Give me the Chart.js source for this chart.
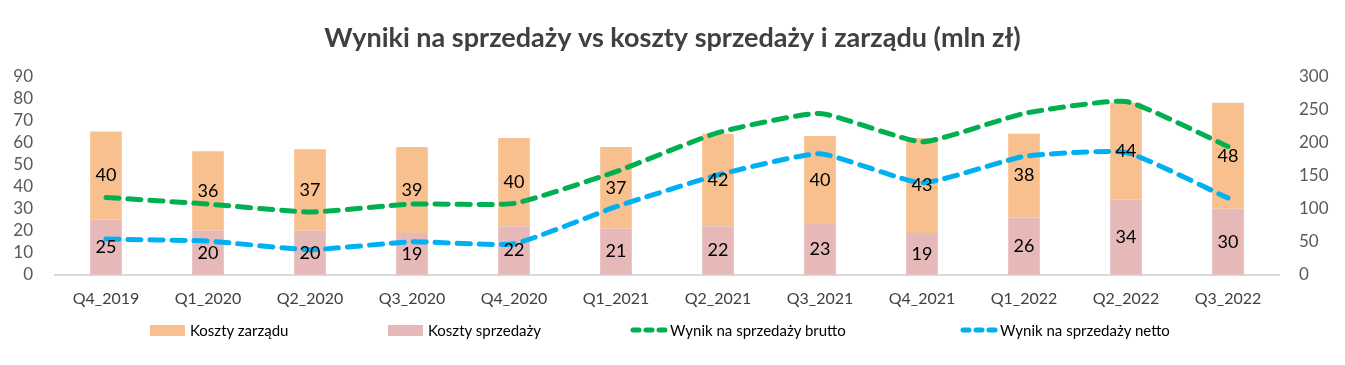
<!DOCTYPE html>
<html>
<head>
<meta charset="utf-8">
<script src="https://cdn.jsdelivr.net/npm/chart.js@4"></script>
<style>
  body { margin: 0; background: #fff; }
  #wrap { position: relative; width: 1345px; height: 365px; }
  #legend { position: absolute; top: 321px; left: 0; width: 1345px; height: 22px;
    font-family: Lato, sans-serif; font-size: 15px; color: #000; }
  .item { position: absolute; display: flex; align-items: center; }
  .box { width: 35px; height: 11px; margin-right: 5px; }
</style>
</head>
<body>
<div id="wrap">
  <canvas id="salesChart" width="1345" height="365"></canvas>
  <div id="legend"></div>
</div>
<script>
const quarters = ['Q4_2019', 'Q1_2020', 'Q2_2020', 'Q3_2020', 'Q4_2020', 'Q1_2021',
  'Q2_2021', 'Q3_2021', 'Q4_2021', 'Q1_2022', 'Q2_2022', 'Q3_2022'];
const kosztySprzedazy = [25, 20, 20, 19, 22, 21, 22, 23, 19, 26, 34, 30];
const kosztyZarzadu = [40, 36, 37, 39, 40, 37, 42, 40, 43, 38, 44, 48];
const wynikBrutto = [117, 107, 95, 107, 108, 156, 215, 244, 201, 244, 262, 194];
const wynikNetto = [54, 51, 38, 50, 47, 103, 151, 183, 139, 179, 185, 116];

const font = 'Lato, sans-serif';

// etykiety w środku słupków
const barLabels = {
  id: 'barLabels',
  afterDatasetsDraw(chart) {
    const ctx = chart.ctx;
    ctx.save();
    ctx.font = '18px ' + font;
    ctx.fillStyle = '#000';
    ctx.textAlign = 'center';
    ctx.textBaseline = 'middle';
    chart.data.datasets.forEach(function (ds, i) {
      if (ds.type !== 'bar') return;
      chart.getDatasetMeta(i).data.forEach(function (bar, j) {
        const mid = (bar.y + bar.base) / 2;
        ctx.fillText(ds.data[j], bar.x, mid);
      });
    });
    ctx.restore();
  }
};

const ctx = document.getElementById('salesChart').getContext('2d');
const chart = new Chart(ctx, {
  data: {
    labels: quarters,
    datasets: [
      {
        type: 'bar',
        label: 'Koszty sprzedaży',
        data: kosztySprzedazy,
        backgroundColor: '#E6B9B8',
        yAxisID: 'y',
        stack: 's',
        order: 2,
        barPercentage: 0.62,
        categoryPercentage: 0.5,
      },
      {
        type: 'bar',
        label: 'Koszty zarządu',
        data: kosztyZarzadu,
        backgroundColor: '#F9C08F',
        yAxisID: 'y',
        stack: 's',
        order: 2,
        barPercentage: 0.62,
        categoryPercentage: 0.5,
      },
      {
        type: 'line',
        label: 'Wynik na sprzedaży brutto',
        data: wynikBrutto,
        borderColor: '#00B050',
        borderWidth: 5,
        borderDash: [13, 9],
        borderCapStyle: 'round',
        tension: 0.15,
        pointRadius: 0,
        fill: false,
        yAxisID: 'y1',
        order: 1,
      },
      {
        type: 'line',
        label: 'Wynik na sprzedaży netto',
        data: wynikNetto,
        borderColor: '#00B0F0',
        borderWidth: 5,
        borderDash: [13, 9],
        borderCapStyle: 'round',
        tension: 0.15,
        pointRadius: 0,
        fill: false,
        yAxisID: 'y1',
        order: 1,
      },
    ],
  },
  options: {
    responsive: false,
    animation: false,
    layout: { padding: { top: 20, bottom: 51, left: 0, right: 0 } },
    plugins: {
      legend: { display: false },
      tooltip: { enabled: false },
      title: {
        display: true,
        text: 'Wyniki na sprzedaży vs koszty sprzedaży i zarządu (mln zł)',
        color: '#404040',
        font: { family: font, size: 27, weight: 'bold', lineHeight: 1.2 },
        padding: { top: 2, bottom: 22 },
      },
    },
    scales: {
      x: {
        stacked: true,
        grid: { display: false },
        border: { color: '#D9D9D9', width: 2 },
        ticks: { color: '#404040', font: { family: font, size: 16 }, padding: 6, maxRotation: 0 },
      },
      y: {
        position: 'left',
        stacked: true,
        min: 0,
        max: 90,
        grid: { display: false },
        border: { display: false },
        ticks: { stepSize: 10, autoSkip: false, color: '#595959', font: { family: font, size: 17 }, padding: 14 },
        afterFit(scale) { scale.width = 55; },
      },
      y1: {
        position: 'right',
        min: 0,
        max: 300,
        grid: { display: false },
        border: { display: false },
        ticks: { stepSize: 50, autoSkip: false, color: '#595959', font: { family: font, size: 17 }, padding: 12 },
        afterFit(scale) { scale.width = 66; },
      },
    },
  },
  plugins: [barLabels],
});

// legenda pod wykresem
const legendItems = [
  { text: 'Koszty zarządu', color: '#F9C08F', left: 150, line: false },
  { text: 'Koszty sprzedaży', color: '#E6B9B8', left: 388, line: false },
  { text: 'Wynik na sprzedaży brutto', color: '#00B050', left: 630, line: true },
  { text: 'Wynik na sprzedaży netto', color: '#00B0F0', left: 960, line: true },
];
const legend = document.getElementById('legend');
legendItems.forEach(function (it) {
  const el = document.createElement('div');
  el.className = 'item';
  el.style.left = it.left + 'px';
  if (it.line) {
    el.innerHTML = '<svg width="40" height="12"><line x1="3" y1="6" x2="35" y2="6" stroke="' + it.color +
      '" stroke-width="5" stroke-linecap="round" stroke-dasharray="6 7"/></svg><span>' + it.text + '</span>';
  } else {
    el.innerHTML = '<div class="box" style="background:' + it.color + '"></div><span>' + it.text + '</span>';
  }
  legend.appendChild(el);
});
</script>
</body>
</html>
